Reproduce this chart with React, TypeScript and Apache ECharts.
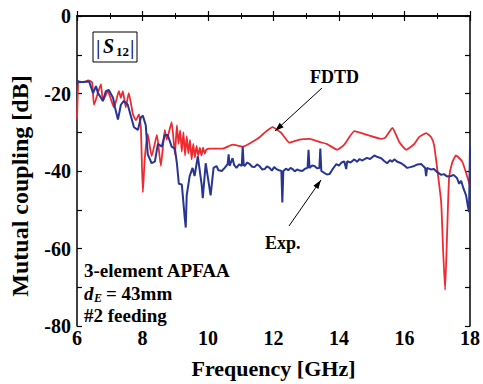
import React, { useEffect, useRef } from 'react';
import * as echarts from 'echarts';

const xTickValues = [6, 8, 10, 12, 14, 16, 18];
const yTickValues = [0, -20, -40, -60, -80];

const fdtdFreq = [
  6.0, 6.06, 6.21, 6.34, 6.46, 6.52, 6.73, 6.79, 6.94, 7.13, 7.28, 7.34, 7.4, 7.49, 7.58, 7.71, 7.8, 7.89, 7.95,
  8.01, 8.07, 8.16, 8.28, 8.44, 8.56, 8.68, 8.74, 8.89, 8.99, 9.05, 9.1, 9.15, 9.2, 9.25, 9.3, 9.35, 9.4, 9.45,
  9.5, 9.55, 9.6, 9.65, 9.7, 9.75, 9.8, 9.85, 9.9, 9.95, 10.05, 10.45, 10.75, 11.06, 11.51, 11.76, 11.97, 12.24,
  12.49, 12.79, 13.1, 13.4, 13.62, 13.95, 14.16, 14.47, 14.86, 15.29, 15.41, 15.63, 15.84, 16.05, 16.3, 16.45,
  16.66, 16.81, 16.9, 17.0, 17.12, 17.18, 17.24, 17.3, 17.36, 17.45, 17.57, 17.76, 17.91, 18.0,
];
const fdtdDb = [
  -26.7, -16.9, -17.1, -16.6, -17.1, -22.9, -17.6, -21.9, -19.4, -23.6, -19.4, -21.1, -19.4, -23.6, -19.9, -25.4,
  -26.9, -25.4, -28.7, -45.5, -36.7, -30.4, -36.2, -30.7, -38.7, -29.4, -31.9, -27.4, -35.7, -28.2, -33.0, -29.5,
  -35.0, -30.0, -36.0, -31.0, -35.5, -32.0, -37.0, -33.0, -36.5, -33.5, -36.0, -34.0, -36.0, -34.0, -35.5, -34.5,
  -34.2, -34.2, -33.2, -33.7, -31.7, -29.9, -28.7, -30.2, -32.7, -31.9, -31.7, -32.5, -33.0, -34.5, -33.2, -29.7,
  -30.7, -31.7, -31.4, -28.9, -32.5, -34.5, -33.0, -31.2, -30.2, -31.2, -33.2, -39.5, -48.1, -60.6, -70.7, -56.4,
  -42.0, -38.0, -36.0, -37.5, -41.3, -43.8,
];

const expFreq = [
  6.0, 6.06, 6.37, 6.49, 6.58, 6.64, 6.73, 6.79, 6.88, 6.97, 7.1, 7.16, 7.25, 7.34, 7.43, 7.55, 7.64, 7.74, 7.86,
  7.95, 8.01, 8.1, 8.16, 8.28, 8.38, 8.47, 8.59, 8.68, 8.77, 8.89, 8.99, 9.05, 9.11, 9.2, 9.23, 9.29, 9.32, 9.35,
  9.44, 9.53, 9.59, 9.69, 9.81, 9.84, 9.93, 9.99, 10.08, 10.17, 10.26, 10.32, 10.42, 10.51, 10.6, 10.63, 10.66,
  10.75, 10.8, 10.87, 10.95, 11.03, 11.06, 11.09, 11.12, 11.2, 11.27, 11.35, 11.42, 11.5, 11.57, 11.65, 11.73,
  11.8, 11.88, 11.95, 12.02, 12.09, 12.17, 12.24, 12.27, 12.3, 12.38, 12.45, 12.52, 12.58, 12.65, 12.72, 12.8,
  12.88, 12.96, 13.04, 13.07, 13.1, 13.18, 13.25, 13.33, 13.4, 13.43, 13.46, 13.55, 13.63, 13.71, 13.8, 13.92,
  14.0, 14.08, 14.16, 14.22, 14.25, 14.35, 14.47, 14.55, 14.63, 14.7, 14.77, 14.85, 14.95, 15.08, 15.18, 15.29,
  15.38, 15.47, 15.56, 15.62, 15.69, 15.78, 15.9, 16.0, 16.08, 16.18, 16.3, 16.4, 16.51, 16.58, 16.63, 16.66,
  16.69, 16.8, 16.9, 17.0, 17.12, 17.2, 17.3, 17.42, 17.5, 17.6, 17.67, 17.73, 17.8, 17.88, 17.94, 17.97, 18.0,
];
const expDb = [
  -16.6, -17.1, -16.9, -19.9, -18.1, -19.9, -21.1, -21.9, -19.4, -19.1, -21.1, -23.6, -26.7, -22.9, -21.9, -22.9,
  -25.7, -28.7, -29.4, -26.2, -25.7, -28.2, -35.7, -38.0, -37.5, -33.0, -33.7, -30.7, -30.7, -33.7, -34.2, -38.0,
  -43.3, -43.5, -46.3, -52.1, -54.6, -46.3, -41.3, -39.2, -41.3, -36.2, -43.8, -47.0, -38.0, -41.3, -46.3, -39.2,
  -38.7, -39.8, -40.0, -39.2, -38.2, -35.7, -38.7, -36.7, -38.5, -39.2, -38.3, -38.7, -33.7, -38.5, -38.7, -37.8,
  -38.2, -38.9, -39.0, -38.3, -38.7, -39.6, -39.5, -38.8, -39.2, -39.9, -39.0, -39.5, -39.8, -40.0, -48.1, -40.0,
  -39.4, -39.8, -39.2, -39.5, -40.1, -39.6, -39.9, -40.0, -39.4, -39.2, -34.5, -39.2, -38.6, -38.7, -39.3, -39.2,
  -34.2, -40.0, -40.5, -40.9, -40.8, -39.6, -38.2, -38.6, -37.8, -37.5, -39.5, -37.5, -37.8, -37.0, -37.6, -36.9,
  -37.3, -37.0, -36.6, -36.9, -36.0, -36.4, -36.7, -37.4, -38.0, -37.2, -37.6, -37.0, -37.6, -38.0, -38.6, -39.2,
  -39.0, -38.7, -38.3, -38.2, -38.8, -39.2, -41.3, -39.2, -39.6, -39.5, -40.3, -41.0, -40.8, -41.4, -41.3, -41.0,
  -41.8, -43.3, -42.5, -44.5, -46.3, -49.3, -50.6, -33.7,
];

const FONT = 'Liberation Serif';

function zip(xs: number[], ys: number[]) {
  return xs.map((x, i) => [x, ys[i]]);
}

function arrowHead(tip: [number, number], from: [number, number], len: number, half: number) {
  const dx = tip[0] - from[0];
  const dy = tip[1] - from[1];
  const d = Math.sqrt(dx * dx + dy * dy);
  const ux = dx / d;
  const uy = dy / d;
  const bx = tip[0] - ux * len;
  const by = tip[1] - uy * len;
  return [
    [tip[0], tip[1]],
    [bx - uy * half, by + ux * half],
    [bx + uy * half, by - ux * half],
  ];
}

export default function App() {
  const ref = useRef<HTMLDivElement>(null);
  useEffect(() => {
    if (!ref.current) return;
    document.body.style.margin = '0';
    const chart = echarts.init(ref.current, null, { renderer: 'svg' });
    const axisLine = { show: true, lineStyle: { color: '#000', width: 1.5 } };
    const txt = (text: string, x: number, y: number, size: number, extra: any = {}) => ({
      type: 'text',
      x,
      y,
      z: 100,
      style: {
        text,
        fontFamily: FONT,
        fontWeight: 'bold',
        fontSize: size,
        fill: '#000',
        verticalAlign: 'middle',
        ...extra,
      },
    });
    const fdtdFrom: [number, number] = [322, 88];
    const fdtdTip: [number, number] = [275, 131];
    const expFrom: [number, number] = [289, 226];
    const expTip: [number, number] = [321, 180];
    chart.setOption({
      animation: false,
      backgroundColor: '#fff',
      grid: { left: 77, right: 12, top: 16, bottom: 50, containLabel: false },
      xAxis: [
        {
          type: 'value',
          min: 6,
          max: 18,
          interval: 2,
          name: 'Frequency [GHz]',
          nameLocation: 'middle',
          nameGap: 31,
          nameTextStyle: { fontFamily: FONT, fontWeight: 'bold', fontSize: 22, color: '#000' },
          axisLine,
          axisTick: { show: true, inside: true, length: 5, lineStyle: { color: '#000', width: 1.2 } },
          minorTick: { show: true, splitNumber: 2, length: 3, lineStyle: { color: '#000', width: 1 } },
          splitLine: { show: false },
          axisLabel: {
            fontFamily: FONT,
            fontWeight: 'bold',
            fontSize: 20,
            color: '#000',
            margin: 2,
            formatter: (v: number) => (xTickValues.includes(v) ? String(v) : ''),
          },
        },
        {
          type: 'value',
          position: 'top',
          min: 6,
          max: 18,
          interval: 2,
          axisLine,
          axisTick: { show: true, inside: true, length: 5, lineStyle: { color: '#000', width: 1.2 } },
          minorTick: { show: true, splitNumber: 2, length: 3, lineStyle: { color: '#000', width: 1 } },
          splitLine: { show: false },
          axisLabel: { show: false },
        },
      ],
      yAxis: [
        {
          type: 'value',
          min: -80,
          max: 0,
          interval: 20,
          axisLine,
          axisTick: { show: true, inside: true, length: 5, lineStyle: { color: '#000', width: 1.2 } },
          minorTick: { show: true, splitNumber: 2, length: 5, lineStyle: { color: '#000', width: 1.2 } },
          splitLine: { show: false },
          axisLabel: {
            fontFamily: FONT,
            fontWeight: 'bold',
            fontSize: 20,
            color: '#000',
            margin: 6,
            formatter: (v: number) => (yTickValues.includes(v) ? String(v) : ''),
          },
        },
        {
          type: 'value',
          position: 'right',
          min: -80,
          max: 0,
          interval: 20,
          axisLine,
          axisTick: { show: true, inside: true, length: 5, lineStyle: { color: '#000', width: 1.2 } },
          minorTick: { show: true, splitNumber: 2, length: 5, lineStyle: { color: '#000', width: 1.2 } },
          splitLine: { show: false },
          axisLabel: { show: false },
        },
      ],
      series: [
        {
          name: 'FDTD',
          type: 'line',
          showSymbol: false,
          data: zip(fdtdFreq, fdtdDb),
          lineStyle: { color: '#ee2a30', width: 1.8 },
          itemStyle: { color: '#ee2a30' },
          smooth: 0.15,
          z: 2,
        },
        {
          name: 'Exp.',
          type: 'line',
          showSymbol: false,
          data: zip(expFreq, expDb),
          lineStyle: { color: '#283593', width: 2 },
          itemStyle: { color: '#283593' },
          z: 3,
        },
      ],
      graphic: [
        {
          type: 'text',
          x: 20,
          y: 186,
          rotation: Math.PI / 2,
          z: 100,
          style: {
            text: 'Mutual coupling [dB]',
            fontFamily: FONT,
            fontWeight: 'bold',
            fontSize: 24,
            fill: '#000',
            align: 'center',
            verticalAlign: 'middle',
          },
        },
        {
          type: 'rect',
          z: 99,
          shape: { x: 93, y: 32, width: 44, height: 30 },
          style: { fill: '#fff', stroke: '#000', lineWidth: 1 },
        },
        txt('|', 96, 46, 22, { fontWeight: 'normal' }),
        txt('S', 103, 46, 20, { fontStyle: 'italic' }),
        txt('12', 116, 51, 13),
        txt('|', 130, 46, 22, { fontWeight: 'normal' }),
        txt('FDTD', 310, 77, 18),
        txt('Exp.', 265, 243, 18),
        {
          type: 'line',
          z: 100,
          shape: { x1: fdtdFrom[0], y1: fdtdFrom[1], x2: fdtdTip[0], y2: fdtdTip[1] },
          style: { stroke: '#000', lineWidth: 1 },
        },
        {
          type: 'polygon',
          z: 100,
          shape: { points: arrowHead(fdtdTip, fdtdFrom, 9, 3) },
          style: { fill: '#000' },
        },
        {
          type: 'line',
          z: 100,
          shape: { x1: expFrom[0], y1: expFrom[1], x2: expTip[0], y2: expTip[1] },
          style: { stroke: '#000', lineWidth: 1 },
        },
        {
          type: 'polygon',
          z: 100,
          shape: { points: arrowHead(expTip, expFrom, 9, 3) },
          style: { fill: '#000' },
        },
        txt('3-element APFAA', 84, 270, 19),
        txt('d', 84, 293, 19, { fontStyle: 'italic' }),
        txt('E', 94, 298, 12, { fontStyle: 'italic' }),
        txt('= 43mm', 106, 293, 19),
        txt('#2 feeding', 84, 315, 19),
      ],
    });
    return () => chart.dispose();
  }, []);
  return <div ref={ref} style={{ width: 483, height: 384 }} />;
}
